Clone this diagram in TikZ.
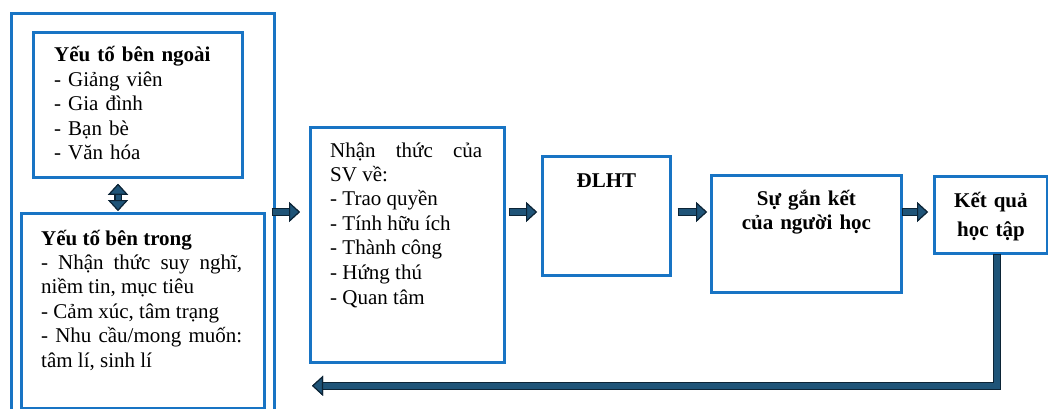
\documentclass[tikz,border=0pt]{standalone}
\usepackage{fontspec}
\setmainfont{Liberation Serif}
\usetikzlibrary{calc,arrows.meta}

\definecolor{boxblue}{RGB}{24,116,196}
\definecolor{arrowfill}{RGB}{31,84,120}
\definecolor{arrowedge}{RGB}{12,36,54}

\tolerance=10000
\hyphenpenalty=10000

\tikzset{blk/.tip={Triangle[length=11pt, width=20pt, line width=1.1pt, color=arrowedge, fill=arrowfill]}}

\begin{document}
\begin{tikzpicture}[x=1pt, y=-1pt,
  box/.style={draw=boxblue, line width=2.8pt, anchor=north west, inner sep=0pt},
  txt/.style={inner sep=0pt, anchor=base west, font=\fontsize{21}{24.4}\selectfont},
  flow/.style={draw=arrowfill, line width=5.4pt, -blk, shorten >=#1,
    preaction={draw=arrowedge, line width=8pt, line join=miter, -blk, shorten >=#1, shorten <=-1.3pt}},
  flow/.default=0pt,
  dflow/.style={draw=arrowfill, line width=5pt, blk-blk,
    preaction={draw=arrowedge, line width=7.6pt, blk-blk}}]
\clip (0,0) rectangle (1048,409);

% boxes
\node[box, minimum width=263pt, minimum height=430pt] (outer) at (10,12) {};
\node[box, minimum width=209pt, minimum height=145pt] (ext) at (32,31) {};
\node[box, minimum width=243pt, minimum height=195pt] (int) at (20,212) {};
\node[box, minimum width=194pt, minimum height=235pt] (nhan) at (309,126) {};
\node[box, minimum width=128pt, minimum height=119pt] (dlht) at (541,155) {};
\node[box, minimum width=190pt, minimum height=117pt] (gk) at (710,174) {};
\node[box, minimum width=113pt, minimum height=77pt] (kq) at (933,175) {};

% texts
\node[txt, text width=185pt] (extT) at ($(ext.north west)+(22,31)$)
  {\textbf{Yếu tố bên ngoài}\\- Giảng viên\\- Gia đình\\- Bạn bè\\- Văn hóa};
\node[txt, text width=201pt, align=justify] (intT) at ($(int.north west)+(21,33)$)
  {\textbf{Yếu tố bên trong}\\- Nhận thức suy nghĩ,\linebreak niềm tin, mục tiêu\\- Cảm xúc, tâm trạng\\- Nhu cầu/mong muốn:\linebreak tâm lí, sinh lí};
\node[txt, text width=152pt, align=justify] (nhanT) at ($(nhan.north west)+(21,31)$)
  {Nhận thức của\linebreak SV về:\\- Trao quyền\\- Tính hữu ích\\- Thành công\\- Hứng thú\\[1.5pt]- Quan tâm};
\node[txt, anchor=base, font=\fontsize{21}{24.4}\selectfont\bfseries] (dlhtT) at ($(dlht.north)+(0,32)$) {ĐLHT};
\node[txt, anchor=base, text width=190pt, align=center, font=\fontsize{21}{24.8}\selectfont\bfseries] (gkT) at ($(gk.north)+(0,31)$)
  {Sự gắn kết\\của người học};
\node[txt, anchor=base, text width=113pt, align=center, font=\fontsize{21}{24.4}\selectfont\bfseries] (kqT) at ($(kq.north)+(0,32)$)
  {Kết quả\\[5.5pt]học tập};

% arrows
\coordinate (row) at (0,212);
\draw[dflow] ($(ext.south west)+(86,5)$) -- ($(int.north west)+(98,-1)$);
\draw[flow=9pt] ($(outer.east |- row)+(-3,0)$) -- (nhan.west |- row);
\draw[flow=4pt] ($(nhan.east |- row)+(4,0)$) -- (dlht.west |- row);
\draw[flow=3pt] ($(dlht.east |- row)+(7,0)$) -- (gk.west |- row);
\draw[flow=5pt] (gk.east |- row) -- (kq.west |- row);
\coordinate (back) at ($(nhan.south west)+(3,22)$);
\draw[flow] ([xshift=6pt]kq.south) |- (back);
\end{tikzpicture}
\end{document}
